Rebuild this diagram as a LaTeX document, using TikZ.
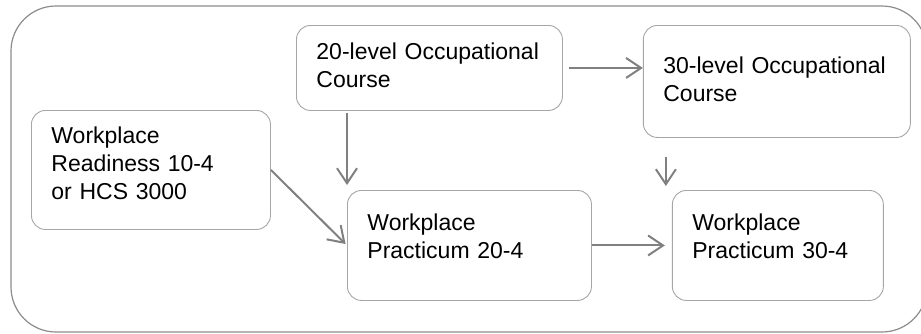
\documentclass[tikz,border=0pt]{standalone}
\usepackage{fontspec}
\setmainfont{Liberation Sans}
\usetikzlibrary{arrows.meta,positioning}
\definecolor{boxgray}{HTML}{A6A6A6}
\definecolor{arrowgray}{HTML}{808080}
\definecolor{framegray}{HTML}{8C8C8C}

\begin{document}
\begin{tikzpicture}[x=1pt, y=-1pt, node distance=80pt]
      \useasboundingbox (0,0) rectangle (921,333);
      \clip (0,0) rectangle (921,333);
      \draw[framegray, line width=1.2pt, rounded corners=45pt] (11,6) rectangle (927,332);
      \begin{scope}[every node/.style={draw=boxgray, line width=0.9pt, rounded corners=14pt,
          anchor=north west, align=left, inner xsep=20pt, inner ysep=0pt,
          font=\fontsize{23}{28}\selectfont,
          execute at begin node=\strut, execute at end node=\strut}]
        \node (r)[text width=199pt, minimum height=119pt, text depth=72pt] at (31,110) {Workplace\\Readiness 10-4\\or HCS 3000};
        \node (c20)[text width=226pt, minimum height=85pt] at (296,25) {20-level Occupational\\Course};
        \node (c30)[text width=227pt, minimum height=112pt] [right=80pt of c20.north east, anchor=north west] {30-level Occupational\\Course};
        \node (p20)[text width=204pt, minimum height=110pt, text depth=49pt] at (347,190) {Workplace\\Practicum 20-4};
        \node (p30)[text width=171pt, minimum height=110pt, text depth=49pt] [right=of p20] {Workplace\\Practicum 30-4};
      \end{scope}
      \begin{scope}
        [every edge/.style={draw=arrowgray, line width=2pt, -{Straight Barb[length=15pt,width=20pt]}}]
        \path (c20.east) edge[shorten <=6pt] (c20.east -| c30.west);
        \path (c20.south -| p20.west) edge[shorten <=2pt, shorten >=5pt] (p20.north west);
        \path (r.east) edge[shorten >=2pt] (p20.west);
        \path ([xshift=-6pt]c30.south -| p30.west) edge[shorten <=19pt, shorten >=4pt] ([xshift=-6pt]p30.north west);
        \path (p20.east) edge[shorten >=7pt] (p30.west);
      \end{scope}
    \end{tikzpicture}
\end{document}
